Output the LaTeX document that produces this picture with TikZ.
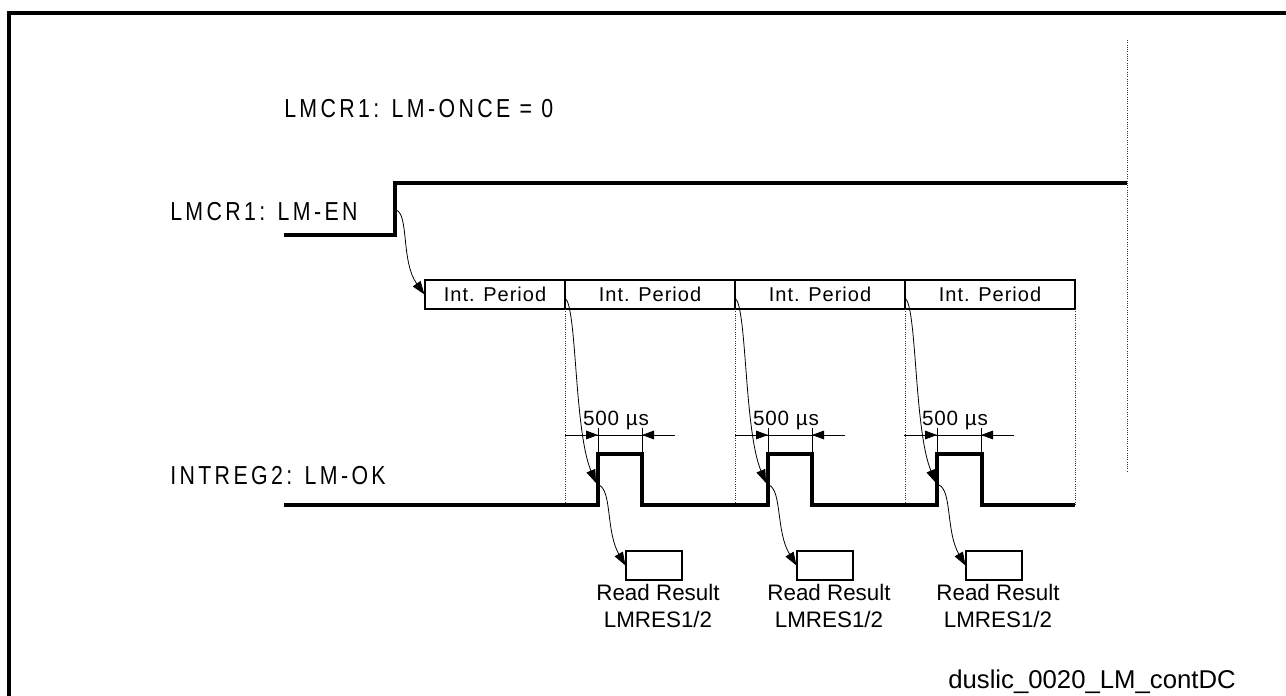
\documentclass[tikz,border=0pt]{standalone}
\usepackage{fontspec}
\setmainfont{Liberation Sans}
\usetikzlibrary{arrows.meta}
\tikzset{
  sig/.style={line width=3.6pt, line join=miter},
  frame/.style={line width=2.4pt},
  guide/.style={densely dotted, line width=0.7pt, black!80},
  ptr/.style={line width=0.6pt, -{Triangle[length=10pt,width=7pt]}},
  dim/.style={line width=0.6pt},
  dimtip/.style={line width=0.6pt, -{Triangle[length=9pt,width=6.5pt]}},
  lbl/.style={font=\fontsize{19.5}{22}\selectfont\addfontfeature{FakeStretch=0.82,LetterSpace=13}, anchor=base west, inner sep=0pt},
  pbox/.style={draw, line width=0.8pt, minimum height=21.75pt, inner sep=0pt, font=\fontsize{15}{17}\selectfont\addfontfeature{LetterSpace=5}},
  rbox/.style={draw, line width=0.8pt, minimum width=42pt, minimum height=21.75pt, inner sep=0pt},
  rtext/.style={font=\fontsize{16.8}{19}\selectfont, anchor=base, inner sep=0pt},
  dimtext/.style={font=\fontsize{15.5}{17}\selectfont\addfontfeature{LetterSpace=4}, anchor=base, inner sep=0pt},
}
\begin{document}
\begin{tikzpicture}[x=0.75pt,y=-0.75pt]
\useasboundingbox (0,0) rectangle (1286,696);
% frame
\draw[frame] (9,700) -- (9,13) -- (1290,13);
% labels
\node[lbl] (once) at (284,117) {LMCR1: LM-ONCE = 0};
\node[lbl] (en) at (170,220) {LMCR1: LM-EN};
\node[lbl] (ok) at (170,484) {INTREG2: LM-OK};
% right dotted line
\coordinate (vt) at (1127,40);
\coordinate (vb) at (1127,472);
\draw[guide] (vt) -- (vb);
% LM-EN signal
\draw[sig] (284,235) -- (395,235) -- (395,183) -- (1127,183);
% Int. Period boxes
\node[pbox, minimum width=105pt] (p1) at (495,294.5) {Int. Period};
\node[pbox, minimum width=127.5pt] (p2) at (650,294.5) {Int. Period};
\node[pbox, minimum width=127.5pt] (p3) at (820,294.5) {Int. Period};
\node[pbox, minimum width=127.5pt] (p4) at (990,294.5) {Int. Period};
% dotted drop lines
\foreach \x in {565,735,905,1075} {
  \draw[guide] (\x,309) -- (\x,505);
}
% LM-OK signal
\draw[sig] (284,505) -- (598,505) -- (598,454) -- (642,454) -- (642,505)
  -- (768,505) -- (768,454) -- (812,454) -- (812,505)
  -- (937,505) -- (937,454) -- (982,454) -- (982,505) -- (1075,505);
% 500 us dimensions
\foreach \a/\i in {598/1,768/2,937/3} {
  \pgfmathsetmacro{\b}{\a+44}
  \draw[dim] (\a,428) -- (\a,452);
  \draw[dim] (\b,428) -- (\b,452);
  \draw[dim] (\a-33,435) -- (\b+33,435);
  \draw[dimtip] (\a-22,435) -- (\a,435);
  \draw[dimtip] (\b+22,435) -- (\b,435);
  \node[dimtext] (us\i) at (\a+18,425) {500 µs};
}
% Read result boxes
\node[rbox] (r1) at (654,565.5) {};
\node[rbox] (r2) at (825,565.5) {};
\node[rbox] (r3) at (994,565.5) {};
\foreach \r/\x in {1/658,2/829,3/998} {
  \node[rtext] (ra\r) at (\x,600) {Read Result};
  \node[rtext] (rb\r) at (\x,627) {LMRES1/2};
}
% curved arrows
\coordinate (enr) at (396,210);
\draw[ptr] (enr) .. controls (409,214) and (401,262) .. (p1.west);
\foreach \x/\r in {565/r1,735/r2,905/r3} {
  \draw[ptr] (\x,298) .. controls (\x+12,306) and (\x+9,430) .. (\x+31,483);
  \draw[ptr] (\x+34,485) .. controls (\x+47,491) and (\x+41,532) .. (\r.west);
}
% file name
\node[font=\fontsize{19.3}{22}\selectfont, anchor=base west, inner sep=0pt] (fn) at (948,688) {duslic\_0020\_LM\_contDC};
\end{tikzpicture}
\end{document}
